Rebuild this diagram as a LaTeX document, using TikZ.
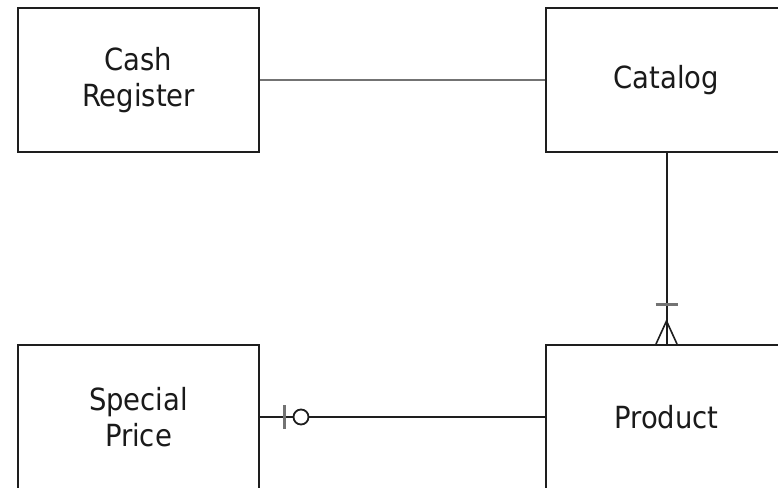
\documentclass[tikz,border=0pt]{standalone}
\usepackage{fontspec}
\setmainfont{DejaVu Sans Condensed}
\usetikzlibrary{calc}
\definecolor{ink}{HTML}{1E1E1E}
\definecolor{txt}{HTML}{1A1A1A}
\begin{document}
\begin{tikzpicture}[x=1pt,y=-1pt,
  entity/.style={draw=ink, line width=2pt, minimum width=241pt, minimum height=144pt,
    inner sep=0pt, align=center, text=txt,
    font=\fontsize{30.5}{36}\selectfont},
  rel/.style={draw=ink, line width=2pt},
  relgray/.style={draw=black!55, line width=2.2pt},
  barmark/.style={draw=black!55, line width=3pt}]
\clip (0,0) rectangle (778,487);
\useasboundingbox (0,0) rectangle (778,487);
\fill[white] (0,0) rectangle (778,487);
\node[entity] (cash) at (138.5,80) {Cash\\Register};
\node[entity] (catalog) at (666.5,80) {Catalog};
\node[entity] (special) at (138.5,417) {Special\\Price};
\node[entity] (product) at (666.5,417) {Product};
% Cash Register -- Catalog
\draw[relgray] (cash.east) -- (catalog.west);
% Catalog -- Product (one to many)
\draw[rel] (catalog.south) -- (product.north);
\coordinate (pn) at (product.north);
\draw[rel, line width=1.6pt] ($(pn)+(-10.5,0)$) -- ($(pn)+(0,-23)$) -- ($(pn)+(10.5,0)$);
\draw[barmark] ($(pn)+(-11,-40)$) -- ($(pn)+(11,-40)$);
% Special Price -- Product (zero or one)
\draw[rel] (special.east) -- (product.west);
\coordinate (se) at (special.east);
\draw[barmark] ($(se)+(24,-12)$) -- ($(se)+(24,12)$);
\draw[rel, fill=white, line width=1.8pt] ($(se)+(41,0)$) circle (7.5);
\end{tikzpicture}
\end{document}
